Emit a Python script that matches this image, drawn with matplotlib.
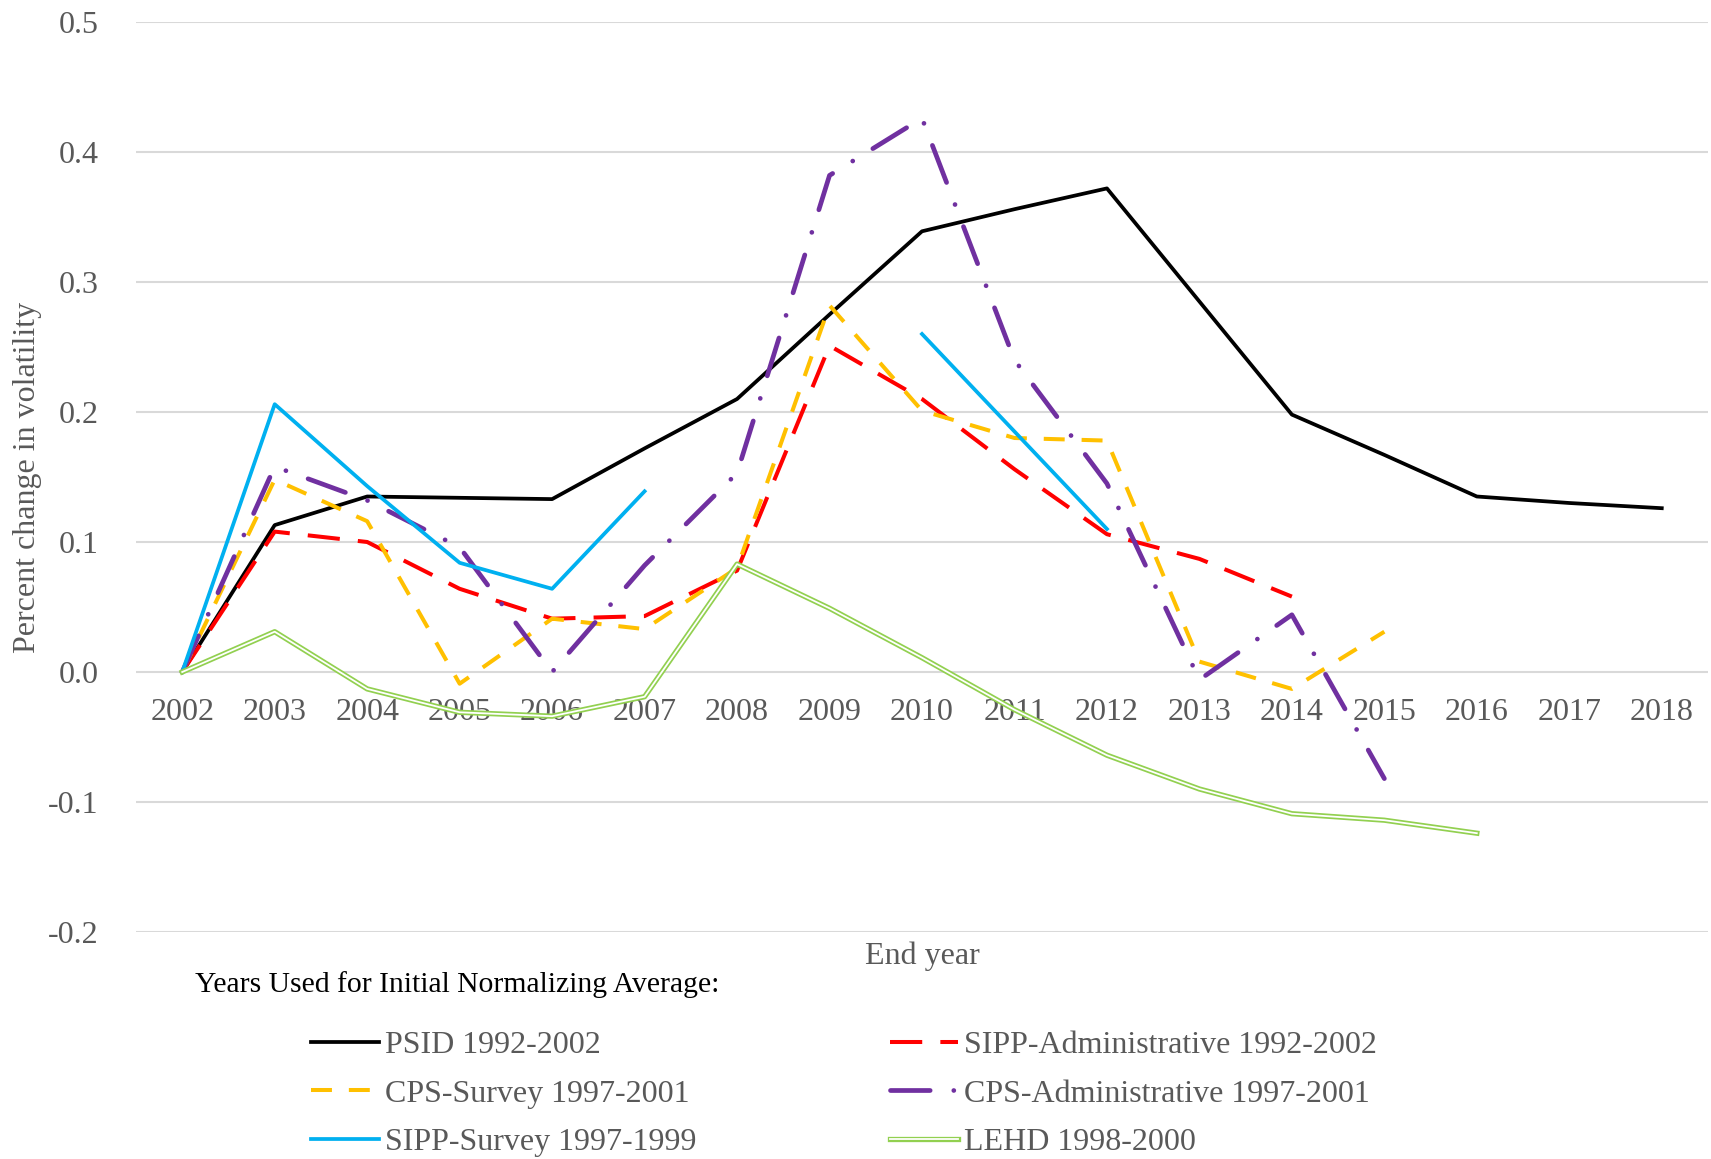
import matplotlib
matplotlib.use("Agg")
import matplotlib.pyplot as plt
import numpy as np

plt.rcParams['font.family'] = ['Liberation Serif', 'DejaVu Serif']

years = [str(y) for y in range(2002, 2019)]
nan = np.nan

# percent change in volatility
psid = [0.0, 0.113, 0.135, 0.134, 0.133, 0.172, 0.210, 0.275, 0.339, 0.356, 0.372,
        0.285, 0.198, 0.167, 0.135, 0.130, 0.126]
sipp_admin = [0.0, 0.108, 0.100, 0.064, 0.041, 0.043, 0.078, 0.251, 0.210, 0.156, 0.106,
              0.087, 0.058, nan, nan, nan, nan]
cps_survey = [0.0, 0.148, 0.116, -0.009, 0.041, 0.033, 0.080, 0.282, 0.201, 0.180, 0.178,
              0.008, -0.013, 0.031, nan, nan, nan]
cps_admin = [0.0, 0.158, 0.132, 0.096, 0.0, 0.082, 0.153, 0.382, 0.426, 0.240, 0.145,
             -0.006, 0.044, -0.082, nan, nan, nan]
sipp_survey = [0.0, 0.206, 0.143, 0.084, 0.064, 0.139, nan, nan, 0.260, 0.185, 0.110,
               nan, nan, nan, nan, nan, nan]
lehd = [0.0, 0.031, -0.013, -0.031, -0.034, -0.019, 0.083, 0.049, 0.011, -0.029, -0.064,
        -0.090, -0.109, -0.114, -0.124, nan, nan]

labels = ["PSID 1992-2002", "SIPP-Administrative 1992-2002", "CPS-Survey 1997-2001",
          "CPS-Administrative 1997-2001", "SIPP-Survey 1997-1999", "LEHD 1998-2000"]

gray = "#595959"
fs = 23
x = np.arange(len(years))

fig = plt.figure(figsize=(17.11, 11.59), dpi=100)
ax = fig.add_axes([136 / 1711, 1 - 932 / 1159, (1708 - 136) / 1711, (932 - 22) / 1159])

kw = dict(solid_joinstyle='round', dash_joinstyle='round')
h_psid, = ax.plot(x, psid, color='black', lw=2.7, **kw)
h_sa, = ax.plot(x, sipp_admin, color='#FF0000', lw=2.9, dashes=(8, 4.5), **kw)
h_cs, = ax.plot(x, cps_survey, color='#FFC000', lw=2.9, dashes=(5.2, 4.2), **kw)
h_ca, = ax.plot(x, cps_admin, color='#7030A0', lw=3.4, dashes=(8.4, 5, 0.01, 5),
                dash_capstyle='round', **kw)
h_ss, = ax.plot(x, sipp_survey, color='#00B0F0', lw=2.7, **kw)
h_g1, = ax.plot(x, lehd, color='#92D050', lw=3.8, **kw)
h_g2, = ax.plot(x, lehd, color='white', lw=1.3, **kw)

ax.set_xlim(-0.5, len(years) - 0.5)
ax.set_ylim(-0.2, 0.5)
yt = np.arange(-0.2, 0.51, 0.1)
ax.set_yticks(yt)
ax.set_yticklabels([f"{v:.1f}" for v in yt])
ax.set_xticks(x)
ax.set_xticklabels(years)
ax.grid(axis='y', color='#d9d9d9', lw=1.5)
ax.set_axisbelow(True)
for s in ax.spines.values():
    s.set_visible(False)
ax.spines['bottom'].set_position(('data', 0))
ax.tick_params(axis='both', length=0, labelsize=fs, colors=gray)
ax.tick_params(axis='x', pad=19)
ax.tick_params(axis='y', pad=27)

fig.text(922 / 1711, 1 - 956 / 1159, "End year", ha='center', va='center', fontsize=fs, color=gray)
fig.text(28 / 1711, 1 - 477 / 1159, "Percent change in volatility", rotation=90,
         ha='center', va='center', fontsize=fs, color=gray)

# legend title as its own text, legend rows indented below it
fig.text(195 / 1711, 1 - 985 / 1159, "Years Used for Initial Normalizing Average:",
         ha='left', va='center', fontsize=21.3, color='black')

handles = [h_psid, h_cs, h_ss, h_sa, h_ca, (h_g1, h_g2)]
order = [labels[0], labels[2], labels[4], labels[1], labels[3], labels[5]]
leg = fig.legend(handles, order, ncol=2, loc='center left',
                 bbox_to_anchor=(311 / 1711, 1 - 1094 / 1159), frameon=False,
                 fontsize=fs, handlelength=2.13, handletextpad=0.2, columnspacing=6.03,
                 labelspacing=0.59, borderaxespad=0, borderpad=0)
for t in leg.get_texts():
    t.set_color(gray)

fig.savefig("out.png", dpi=100)
